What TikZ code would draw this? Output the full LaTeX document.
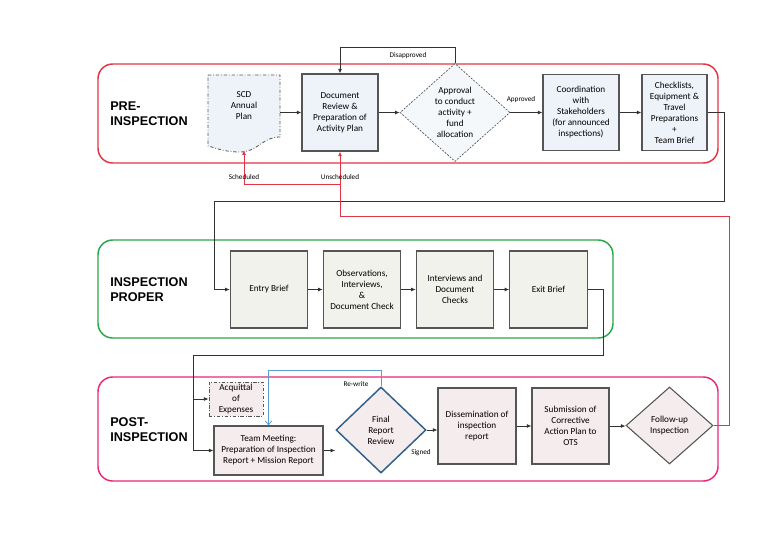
\documentclass[tikz,border=0pt]{standalone}
\usepackage{fontspec}
\setmainfont{Carlito}
\newfontfamily\headfont{Liberation Sans}
\usetikzlibrary{shapes.geometric,arrows.meta}

\definecolor{prered}{RGB}{226,52,68}
\definecolor{propergreen}{RGB}{40,168,72}
\definecolor{postpink}{RGB}{232,40,120}
\definecolor{boxgray}{RGB}{85,85,85}
\definecolor{linegray}{RGB}{50,50,50}
\definecolor{prefill}{RGB}{238,243,249}
\definecolor{properfill}{RGB}{242,242,237}
\definecolor{postfill}{RGB}{245,236,238}
\definecolor{rrblue}{RGB}{47,95,138}
\definecolor{rwblue}{RGB}{91,155,213}

\tikzstyle{frame} = [rounded corners=11pt, line width=1.1pt]
\tikzstyle{phase} = [anchor=west, align=left, inner sep=0pt, font=\headfont\bfseries\fontsize{9.5}{11.25}\selectfont]
\tikzstyle{txt} = [align=center, inner sep=0pt, font=\fontsize{6.9}{8.25}\selectfont]
\tikzstyle{lbl} = [inner sep=0pt, font=\fontsize{5.4}{6.5}\selectfont]
\tikzstyle{box} = [rectangle, txt, draw=boxgray, line width=0.8pt, inner sep=1pt]
\tikzstyle{prebox} = [box, fill=prefill]
\tikzstyle{properbox} = [box, fill=properfill, minimum width=58pt, minimum height=57.75pt]
\tikzstyle{postbox} = [box, fill=postfill]
\tikzstyle{decision} = [diamond, txt, inner sep=0pt]
\tikzstyle{dashdot} = [dash pattern=on 2.5pt off 1.4pt on 0.6pt off 1.4pt]
\tikzstyle{conn} = [draw=linegray, line width=0.6pt, -{Latex[length=3.5pt,width=3pt]}]
\tikzstyle{redconn} = [draw=prered, line width=0.7pt, -{Latex[length=3.5pt,width=3pt]}]
\tikzstyle{blueconn} = [draw=rwblue, line width=0.6pt, -{Straight Barb[length=3pt,width=5pt]}]

\begin{document}
\begin{tikzpicture}[x=0.75pt,y=-0.75pt]
	\useasboundingbox (0,0) rectangle (768,543);

	\draw[frame, draw=prered] (98,64) rectangle (718,163);
	\draw[frame, draw=propergreen] (98,240) rectangle (613,338);
	\draw[frame, draw=postpink] (98,377) rectangle (718,481);

	\node[phase] (pre) at (110,114) {PRE-\\INSPECTION};
	\node[phase] (proper) at (110,290) {INSPECTION\\PROPER};
	\node[phase] (post) at (110,430) {POST-\\INSPECTION};

	\draw[dashdot, draw=boxgray, line width=0.6pt, fill=prefill] (208,75) -- (280,75) -- (280,137)
		.. controls (262,137) and (258,152) .. (240,152)
		.. controls (224,152) and (216,148) .. (208,146) -- cycle;
	\node[minimum width=54pt, minimum height=56.25pt, inner sep=0pt] (scd) at (244,112.5) {};
	\node[txt] (scdtext) at (244,106) {SCD\\Annual\\Plan};

	\node[prebox, minimum width=57pt, minimum height=57.75pt] (docrev) at (340,112.5) {Document\\Review \&\\Preparation of\\Activity Plan};
	\node[decision, draw=boxgray, line width=0.5pt, dash pattern=on 1.5pt off 1pt, fill=prefill!60, minimum width=82.5pt, minimum height=73.5pt, shape aspect=1.12] (appr) at (455,112.5) {Approval\\to conduct\\activity +\\fund\\allocation};
	\node[prebox, minimum width=57pt, minimum height=57pt] (coord) at (581,112.5) {Coordination\\with\\Stakeholders\\(for announced\\inspections)};
	\node[prebox, minimum width=48.75pt, minimum height=57pt] (check) at (674.5,112.5) {Checklists,\\Equipment \&\\Travel\\Preparations\\+\\Team Brief};

	\node[properbox] (entry) at (269,289.5) {Entry Brief};
	\node[properbox] (obs) at (362,289.5) {Observations,\\Interviews,\\\&\\Document Check};
	\node[properbox] (intv) at (455,289.5) {Interviews and\\Document\\Checks};
	\node[properbox] (exitb) at (548.5,289.5) {Exit Brief};

	\node[postbox, dashdot, line width=0.6pt, minimum width=40.5pt, minimum height=25.5pt] (acq) at (236,399) {Acquittal\\of\\Expenses};
	\node[postbox, minimum width=81.75pt, minimum height=36.75pt] (team) at (268.5,450.5) {Team Meeting:\\Preparation of Inspection\\Report + Mission Report};
	\node[decision, draw=rrblue, line width=1.1pt, fill=postfill, minimum width=67.5pt, minimum height=64.5pt] (frr) at (381,430) {Final\\Report\\Review};
	\node[postbox, minimum width=58.5pt, minimum height=57pt] (diss) at (477,426) {Dissemination of\\inspection\\report};
	\node[postbox, minimum width=57.75pt, minimum height=57pt] (subm) at (570.5,426) {Submission of\\Corrective\\Action Plan to\\OTS};
	\node[decision, draw=boxgray, line width=0.8pt, fill=postfill, minimum width=65.25pt, minimum height=57.75pt] (follow) at (669.5,425.5) {Follow-up\\Inspection};

	\coordinate (d1) at (340,47);
	\coordinate (k1) at (724,201);
	\coordinate (k2) at (214,201);
	\coordinate (e1) at (603,355);
	\coordinate (e2) at (193,355);
	\coordinate (e3) at (193,399);
	\coordinate (r1) at (729,216);
	\coordinate (r2) at (340,216);
	\coordinate (r3) at (340,184);
	\coordinate (r4) at (244,184);
	\coordinate (b1) at (381,370);
	\coordinate (b2) at (268.5,370);

	\draw[conn] (scd.east) -- (docrev.west);
	\draw[conn] (docrev.east) -- (appr.west);
	\draw[conn] (appr.east) -- (coord.west);
	\draw[conn] (coord.east) -- (check.west);
	\draw[conn] (appr.north) |- (d1) -- (docrev.north);
	\draw[conn] (check.east) -| (k1) -- (k2) |- (entry.west);

	\draw[conn] (entry.east) -- (obs.west);
	\draw[conn] (obs.east) -- (intv.west);
	\draw[conn] (intv.east) -- (exitb.west);
	\draw[conn] (exitb.east) -| (e1) -- (e2) |- (team.west);
	\draw[conn] (e3) -- (acq.west);

	\draw[conn] (team.east) -- (team.east -| frr.west);
	\draw[conn] (frr.east) -- (frr.east -| diss.west);
	\draw[conn] (diss.east) -- (diss.east -| subm.west);
	\draw[conn] (subm.east) -- (subm.east -| follow.west);
	\draw[blueconn] (frr.north) -- (b1) -- (b2) -- (team.north);

	\draw[redconn] (follow.east) -| (r1) -- (r2) -- (docrev.south);
	\draw[redconn] (r3) -- (r4) -- (scd.south);

	\node[lbl] (ldis) at (408,56) {Disapproved};
	\node[lbl] (lapp) at (521,100) {Approved};
	\node[lbl] (lsch) at (244,177) {Scheduled};
	\node[lbl] (luns) at (340,177) {Unscheduled};
	\node[lbl] (lrew) at (356,384) {Re-write};
	\node[lbl] (lsig) at (421,453) {Signed};
\end{tikzpicture}
\end{document}
